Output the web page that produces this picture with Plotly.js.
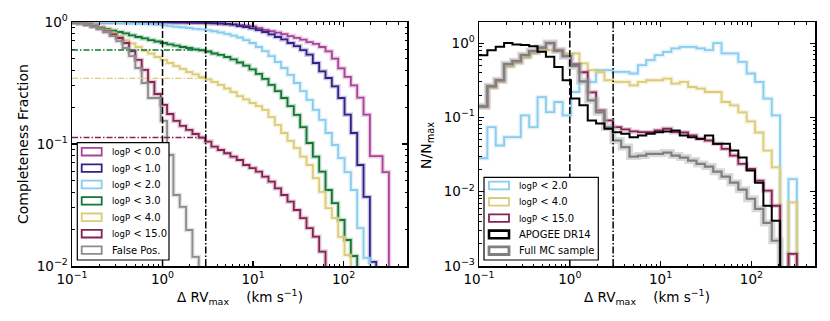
<!DOCTYPE html>
<html><head><meta charset="utf-8">
<script src="https://cdn.plot.ly/plotly-3.0.1.min.js"></script>
<style>html,body{margin:0;padding:0;background:#fff;} #chart{width:830px;height:321px;}</style>
</head><body><div id="chart"></div>
<script>
// ---------------- DATA ----------------
// Left panel: histogram bin edges (km/s), 50 log-spaced bins 0.1 .. 316
const leftEdges = [0.1,0.11749,0.13804,0.16218,0.19055,0.22387,0.26303,0.30903,0.36308,0.42658,
 0.50119,0.58884,0.69183,0.81283,0.95499,1.12202,1.31826,1.54882,1.8197,2.13796,
 2.51189,2.95121,3.46737,4.0738,4.7863,5.62341,6.60693,7.76247,9.12011,10.7152,
 12.5893,14.7911,17.378,20.4174,23.9883,28.1838,33.1131,38.9045,45.7088,53.7032,
 63.0957,74.131,87.0964,102.329,120.226,141.254,165.959,194.984,229.087,269.153,316.228];

// log10(completeness fraction) per bin (null = empty)
const logComp_P0 = [-0.003,-0.003,-0.003,-0.003,-0.003,-0.003,-0.003,-0.003,-0.003,-0.003,
 -0.003,-0.003,-0.003,-0.003,-0.003,-0.003,-0.004,-0.005,-0.006,-0.007,
 -0.008,-0.01,-0.012,-0.014,-0.017,-0.02,-0.025,-0.03,-0.036,-0.05,
 -0.065,-0.075,-0.087,-0.1,-0.115,-0.13,-0.145,-0.165,-0.18,-0.205,
 -0.24,-0.3,-0.38,-0.45,-0.52,-0.62,-0.76,-1.1,-1.1,-1.23];
const logComp_P1 = [-0.001,-0.001,-0.001,-0.001,-0.001,-0.001,-0.001,-0.001,-0.001,-0.001,
 -0.001,-0.001,-0.001,-0.001,-0.001,-0.002,-0.002,-0.003,-0.003,-0.004,
 -0.005,-0.007,-0.009,-0.012,-0.016,-0.021,-0.033,-0.041,-0.052,-0.066,
 -0.082,-0.102,-0.123,-0.143,-0.172,-0.197,-0.23,-0.268,-0.336,-0.404,
 -0.459,-0.527,-0.623,-0.76,-0.91,-1.172,-1.434,-1.967,null,null];
const logComp_P2 = [-0.001,-0.001,-0.002,-0.002,-0.003,-0.003,-0.005,-0.007,-0.009,-0.011,
 -0.014,-0.016,-0.02,-0.023,-0.026,-0.033,-0.039,-0.043,-0.049,-0.056,
 -0.061,-0.068,-0.076,-0.086,-0.098,-0.111,-0.127,-0.148,-0.172,-0.205,
 -0.238,-0.279,-0.328,-0.377,-0.434,-0.5,-0.566,-0.639,-0.721,-0.803,
 -0.91,-1.008,-1.115,-1.23,-1.377,-1.689,-1.934,null,null,null];
const logComp_P3 = [-0.002,-0.01,-0.02,-0.033,-0.045,-0.057,-0.07,-0.082,-0.094,-0.109,
 -0.123,-0.135,-0.148,-0.16,-0.172,-0.183,-0.193,-0.205,-0.213,-0.224,
 -0.232,-0.242,-0.258,-0.27,-0.287,-0.307,-0.332,-0.357,-0.389,-0.426,
 -0.467,-0.516,-0.566,-0.623,-0.689,-0.762,-0.861,-0.992,-1.104,-1.227,
 -1.377,-1.484,-1.623,-1.787,-1.918,null,null,null,null,null];
const logComp_P4 = [-0.002,-0.008,-0.016,-0.029,-0.045,-0.066,-0.09,-0.119,-0.148,-0.176,
 -0.205,-0.234,-0.258,-0.287,-0.311,-0.336,-0.361,-0.385,-0.41,-0.43,
 -0.451,-0.471,-0.492,-0.516,-0.545,-0.574,-0.607,-0.635,-0.664,-0.689,
 -0.721,-0.779,-0.844,-0.91,-0.975,-1.033,-1.104,-1.172,-1.279,-1.393,
 -1.525,-1.607,-1.762,-1.91,null,null,null,null,null,null];
const logComp_P15 = [-0.003,-0.01,-0.02,-0.035,-0.053,-0.078,-0.102,-0.131,-0.172,-0.238,
 -0.311,-0.393,-0.492,-0.59,-0.68,-0.754,-0.811,-0.852,-0.885,-0.918,
 -0.947,-0.98,-1.022,-1.049,-1.076,-1.104,-1.131,-1.172,-1.197,-1.227,
 -1.268,-1.309,-1.363,-1.418,-1.473,-1.541,-1.607,-1.689,-1.76,-1.882,
 null,null,null,null,null,null,null,null,null,null];
const logComp_FalsePos = [-0.003,-0.01,-0.02,-0.037,-0.057,-0.082,-0.115,-0.156,-0.213,-0.279,
 -0.377,-0.5,-0.623,-0.623,-0.811,-1.09,-1.418,-1.516,-1.705,-1.926,
 null,null,null,null,null,null,null,null,null,null,
 null,null,null,null,null,null,null,null,null,null,
 null,null,null,null,null,null,null,null,null,null];
// completeness at 3 km/s (dash-dot guide lines)
const guideY = [0.59, 0.345, 0.113];
const guideXmax = 3;
const markerLinesX = [1, 3];

// Right panel: 38 log-spaced bins 0.1 .. 316
const rightEdges = [0.1,0.12363,0.15283,0.18894,0.23357,0.28875,0.35697,0.44131,0.54556,0.67446,
 0.83378,1.0307,1.2742,1.5752,1.9473,2.4074,2.9761,3.6792,4.5483,5.6234,
 6.952,8.5945,10.625,13.135,16.239,20.075,24.818,30.682,37.93,46.892,
 57.971,71.667,88.599,109.53,135.41,167.4,206.95,255.85,316.23];
// log10(N/Nmax) per bin (null = empty)
const logN_P2 = [-1.55,-1.131,-1.378,-1.266,-1.266,-0.973,-1.131,-0.726,-0.928,-0.793,
 -0.973,-0.658,-0.523,-0.523,-0.365,-0.365,-0.388,-0.388,-0.409,-0.297,
 -0.23,-0.162,-0.118,-0.072,-0.05,-0.05,-0.072,-0.095,0,-0.139,
 -0.139,-0.253,-0.409,-0.523,-0.747,-0.973,null,-1.83];
const logN_P4 = [-0.86,-0.6,-0.52,-0.32,-0.27,-0.2,-0.14,-0.1,-0.095,-0.095,
 -0.139,-0.139,-0.274,-0.365,-0.392,-0.5,-0.523,-0.523,-0.568,-0.523,
 -0.5,-0.5,-0.477,-0.545,-0.523,-0.591,-0.612,-0.658,-0.658,-0.793,
 -0.838,-0.932,-1.054,-1.203,-1.446,-1.672,null,-2.145];
const logN_P15 = [-0.851,-0.581,-0.5,-0.284,-0.243,-0.162,-0.108,-0.061,0,-0.101,
 -0.176,-0.284,-0.392,-0.662,-0.905,-1.041,-1.131,-1.162,-1.189,-1.199,
 -1.199,-1.176,-1.153,-1.199,-1.203,-1.243,-1.288,-1.311,-1.355,-1.423,
 -1.514,-1.626,-1.693,-1.851,-1.986,-2.189,null,-2.838];
const logN_APOGEE = [-0.162,-0.095,-0.05,0,-0.02,-0.027,-0.041,-0.118,-0.185,-0.32,
 -0.5,-0.747,-0.838,-1.041,-1.081,-1.153,-1.199,-1.22,-1.266,-1.243,
 -1.22,-1.199,-1.189,-1.176,-1.243,-1.266,-1.288,-1.243,-1.355,-1.355,
 -1.446,-1.54,-1.716,-1.878,-2.189,-2.392,null,null];
const logN_FullMC = [-0.851,-0.581,-0.5,-0.284,-0.243,-0.162,-0.108,-0.061,0,-0.101,
 -0.176,-0.311,-0.514,-0.77,-0.932,-1.135,-1.311,-1.399,-1.527,-1.514,
 -1.49,-1.49,-1.473,-1.514,-1.541,-1.581,-1.626,-1.662,-1.73,-1.797,
 -1.878,-1.973,-2.095,-2.23,-2.42,-2.66,null,null];

const leftLabels = ['logP < 0.0','logP < 1.0','logP < 2.0','logP < 3.0','logP < 4.0','logP < 15.0','False Pos.'];
const rightLabels = ['logP < 2.0','logP < 4.0','logP < 15.0','APOGEE DR14','Full MC sample'];

// ---------------- STYLE ----------------
const C = {P0:'#AA4499', P1:'#332288', P2:'#88CCEE', P3:'#117733', P4:'#DDCC77', P15:'#882255', FP:'#8c8c8c', AP:'#000000', MC:'#7f7f7f'};
const FONT = 'DejaVu Sans, Liberation Sans, sans-serif';
const W = 830, H = 321;
const PX = v => v / W, PY = v => 1 - v / H;
const FLOOR = 1e-7;

function hexA(hex, a){const n=parseInt(hex.slice(1),16);return `rgba(${(n>>16)&255},${(n>>8)&255},${n&255},${a})`;}
function stepXY(edges, logv){
  const xs=[], ys=[];
  for(let i=0;i<logv.length;i++){xs.push(edges[i]); ys.push(logv[i]===null?FLOOR:Math.pow(10,logv[i]));}
  xs.push(edges[logv.length]); ys.push(FLOOR);
  return {xs, ys};
}
const traces = [];
function addStep(edges, logv, color, width, xa, ya, halo, haloW){
  const s = stepXY(edges, logv);
  if (halo) traces.push({x:s.xs, y:s.ys, xaxis:xa, yaxis:ya, mode:'lines', line:{shape:'hv', color:halo, width:haloW}, hoverinfo:'skip', showlegend:false});
  traces.push({x:s.xs, y:s.ys, xaxis:xa, yaxis:ya, mode:'lines', line:{shape:'hv', color:color, width:width}, hoverinfo:'skip', showlegend:false});
}
// left panel
const leftSeries = [[logComp_P0,C.P0],[logComp_P1,C.P1],[logComp_P2,C.P2],[logComp_P3,C.P3],[logComp_P4,C.P4],[logComp_P15,C.P15],[logComp_FalsePos,C.FP]];
leftSeries.forEach(([v,c]) => addStep(leftEdges, v, c, 1.8, 'x', 'y', hexA(c,0.25), 4.5));
// right panel
addStep(rightEdges, logN_P2, C.P2, 1.8, 'x2', 'y2', hexA(C.P2,0.25), 4.5);
addStep(rightEdges, logN_P4, C.P4, 1.8, 'x2', 'y2', hexA(C.P4,0.25), 4.5);
addStep(rightEdges, logN_P15, C.P15, 1.8, 'x2', 'y2', hexA(C.P15,0.25), 4.5);
addStep(rightEdges, logN_FullMC, C.MC, 2.2, 'x2', 'y2', 'rgba(170,170,170,0.45)', 7);
addStep(rightEdges, logN_APOGEE, C.AP, 2.0, 'x2', 'y2', null, 0);

// axes
function minorVals(lo, hi){const out=[];for(let e=lo;e<=hi;e++){for(let m=2;m<=9;m++){out.push(m*Math.pow(10,e));}}return out;}
const sup = s => `10<sup>${s}</sup>`;
function axis(extra){
  return Object.assign({type:'log', showline:true, linecolor:'#000', linewidth:1.5, mirror:'allticks',
    ticks:'inside', ticklen:5, tickwidth:1.2, tickcolor:'#000', showgrid:false, zeroline:false,
    tickfont:{family:FONT, size:13.5, color:'#000'}, tickmode:'array', fixedrange:true}, extra);
}
const xMinor = {ticks:'inside', ticklen:2.5, tickwidth:1, tickcolor:'#000', tickmode:'array', tickvals:minorVals(-1,2).filter(v=>v<=500), showgrid:false};
const layout = {
  width:W, height:H, margin:{l:0,r:0,t:0,b:0}, paper_bgcolor:'#fff', plot_bgcolor:'#fff', showlegend:false,
  font:{family:FONT, color:'#000'},
  xaxis: axis({domain:[PX(72),PX(407)], range:[-1,2.7], anchor:'y', tickvals:[0.1,1,10,100], ticktext:[sup('−1'),sup('0'),sup('1'),sup('2')], minor:xMinor}),
  yaxis: axis({domain:[PY(266),PY(22)], range:[-2,0], anchor:'x', tickvals:[0.01,0.1,1], ticktext:[sup('−2'),sup('−1'),sup('0')],
    minor:{ticks:'inside', ticklen:2.5, tickwidth:1, tickcolor:'#000', tickmode:'array', tickvals:minorVals(-2,-1), showgrid:false}}),
  xaxis2: axis({domain:[PX(479),PX(815)], range:[-1,2.7], anchor:'y2', tickvals:[0.1,1,10,100], ticktext:[sup('−1'),sup('0'),sup('1'),sup('2')], minor:xMinor}),
  yaxis2: axis({domain:[PY(266),PY(22)], range:[-3,0.284], anchor:'x2', tickvals:[0.001,0.01,0.1,1], ticktext:[sup('−3'),sup('−2'),sup('−1'),sup('0')],
    minor:{ticks:'inside', ticklen:2.5, tickwidth:1, tickcolor:'#000', tickmode:'array', tickvals:minorVals(-3,-1), showgrid:false}}),
  shapes:[], annotations:[]
};
// vertical marker lines
[['x','y'],['x2','y2']].forEach(([xa,ya])=>{
  layout.shapes.push({type:'line', xref:xa, yref:ya+' domain', x0:markerLinesX[0], x1:markerLinesX[0], y0:0, y1:1, line:{color:'#000', width:1.5, dash:'7px,2.5px'}});
  layout.shapes.push({type:'line', xref:xa, yref:ya+' domain', x0:markerLinesX[1], x1:markerLinesX[1], y0:0, y1:1, line:{color:'#000', width:1.5, dash:'7px,2px,1.5px,2px'}});
});
// horizontal guide lines (left)
[C.P3, C.P4, C.P15].forEach((c,i)=>{
  layout.shapes.push({type:'line', xref:'x', yref:'y', x0:leftEdges[0], x1:guideXmax, y0:guideY[i], y1:guideY[i], line:{color:c, width:1.4, dash:'6px,2px,1.5px,2px'}});
});
// manual legends
function legend(x0,y0,x1,y1, entries, rx0, rx1, tx, ystart, dy){
  layout.shapes.push({type:'rect', xref:'paper', yref:'paper', x0:PX(x0), x1:PX(x1), y0:PY(y1), y1:PY(y0), line:{color:'#000', width:1.2}, fillcolor:'#fff', layer:'above'});
  entries.forEach((e,i)=>{
    const yc = ystart + i*dy;
    layout.shapes.push({type:'rect', xref:'paper', yref:'paper', x0:PX(rx0), x1:PX(rx1), y0:PY(yc+3.8), y1:PY(yc-3.8), line:{color:e.color, width:e.w||1.8}, fillcolor:'rgba(0,0,0,0)', layer:'above'});
    const txt = e.label.startsWith('logP') ? `<span style="font-size:8.5px">logP</span> ${e.label.slice(5).replace('<','&lt;')}` : e.label;
    layout.annotations.push({xref:'paper', yref:'paper', x:PX(tx), y:PY(yc), text:txt, showarrow:false, xanchor:'left', yanchor:'middle', font:{family:FONT, size:10, color:'#000'}});
  });
}
legend(77.3,142.7,169,260, leftLabels.map((l,i)=>({label:l, color:[C.P0,C.P1,C.P2,C.P3,C.P4,C.P15,C.FP][i]})), 81.7,101.7,109.5,151.7,16.4);
legend(484,177.3,598.3,260, rightLabels.map((l,i)=>({label:l, color:[C.P2,C.P4,C.P15,C.AP,C.MC][i], w:[1.8,1.8,1.8,2.6,2.8][i]})), 489,509,516.5,185.5,16.3);
// axis titles
const xt = 'Δ RV<sub>max</sub>\u00a0\u00a0\u00a0\u00a0(km s<sup>−1</sup>)';
layout.annotations.push({xref:'paper', yref:'paper', x:PX(239.5), y:PY(297), text:xt, showarrow:false, xanchor:'center', yanchor:'middle', font:{family:FONT, size:13.5}});
layout.annotations.push({xref:'paper', yref:'paper', x:PX(647), y:PY(297), text:xt, showarrow:false, xanchor:'center', yanchor:'middle', font:{family:FONT, size:13.5}});
layout.annotations.push({xref:'paper', yref:'paper', x:PX(23), y:PY(144), text:'Completeness Fraction', textangle:-90, showarrow:false, xanchor:'center', yanchor:'middle', font:{family:FONT, size:14}});
layout.annotations.push({xref:'paper', yref:'paper', x:PX(427), y:PY(146), text:'N/N<sub>max</sub>', textangle:-90, showarrow:false, xanchor:'center', yanchor:'middle', font:{family:FONT, size:14}});

Plotly.newPlot('chart', traces, layout, {staticPlot:true, displayModeBar:false});
</script></body></html>
